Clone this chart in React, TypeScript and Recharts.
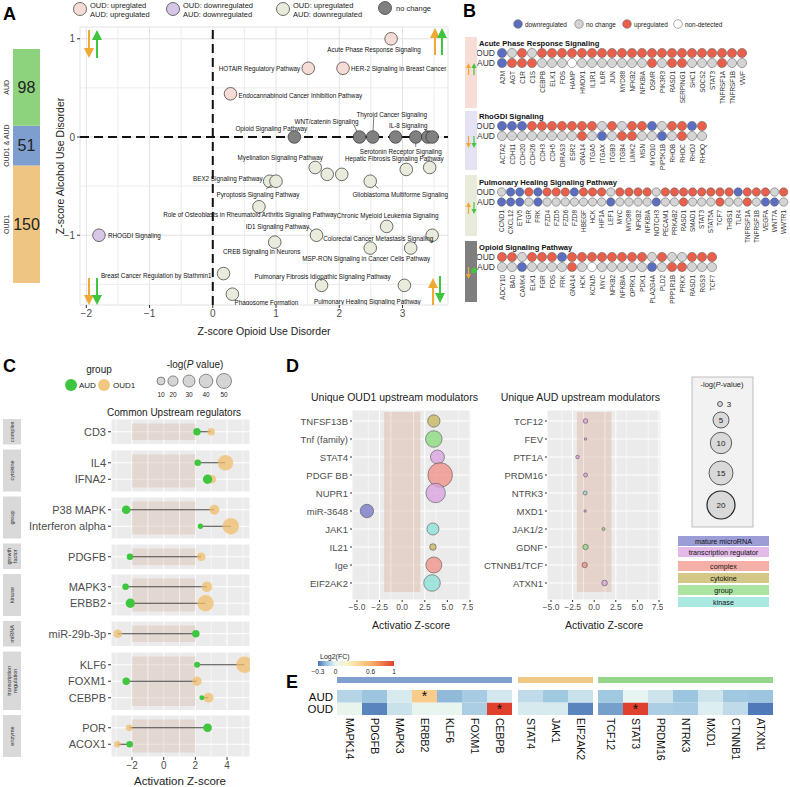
import React from "react";
import {
  ScatterChart, Scatter, XAxis, YAxis, ZAxis, CartesianGrid, ReferenceLine, ReferenceArea,
  BarChart, Bar, LabelList, Cell,
} from "recharts";

const FONT = "'Liberation Sans', Arial, Helvetica, sans-serif";
const minus = (v: any) => String(v).replace("-", "\u2212");

// ---------- A: canonical pathways, z-score OUD vs AUD ----------
const aPathways = [
  "Acute Phase Response Signaling", "HOTAIR Regulatory Pathway", "HER-2 Signaling in Breast Cancer",
  "Endocannabinoid Cancer Inhibition Pathway", "Opioid Signaling Pathway", "WNT/catenin Signaling",
  "Thyroid Cancer Signaling", "", "Serotonin Receptor Signaling", "", "IL-8 Signaling",
  "Myelination Signaling Pathway", "", "", "Hepatic Fibrosis Signaling Pathway", "",
  "BEX2 Signaling Pathway", "Pyroptosis Signaling Pathway", "Glioblastoma Multiforme Signaling",
  "Role of Osteoblasts in Rheumatoid Arthritis Signaling Pathway", "Chronic Myeloid Leukemia Signaling",
  "ID1 Signaling Pathway", "Colorectal Cancer Metastasis Signaling", "CREB Signaling in Neurons",
  "MSP-RON Signaling in Cancer Cells Pathway", "", "Breast Cancer Regulation by Stathmin1",
  "Pulmonary Fibrosis Idiopathic Signaling Pathway", "Pulmonary Healing Signaling Pathway",
  "Phagosome Formation", "RHOGDI Signaling",
];
const aOudZ = [2.82, 1.51, 2.06, 0.28, 1.29, 2.32, 2.53, 2.89, 3.21, 3.40, 3.47, 1.62, 1.81, 2.04, 3.06, 3.43,
  0.90, 1.00, 2.49, 0.73, 2.75, 1.64, 3.47, 0.98, 2.49, 3.13, 0.17, 1.72, 3.03, 0.31, -1.80];
const aAudZ = [1.0, 0.70, 0.70, 0.44, 0, 0, 0, 0, 0, 0, 0, -0.31, -0.38, -0.38, -0.33, -0.31,
  -0.45, -0.45, -0.45, -0.71, -0.91, -1.0, -1.0, -1.07, -1.13, -1.13, -1.39, -1.51, -1.51, -1.60, -1.0];

const vennNames = ["OUD1", "OUD1 & AUD", "AUD"];
const vennCounts = [150, 51, 98];

// ---------- B: gene status per pathway (d down, n no change, u up, x non-detected) ----------
const acuteGenes = ["A2M", "AGT", "C1R", "C1S", "CEBPB", "ELK1", "FOS", "HAMP", "HMOX1", "IL1R1", "IL6R", "JUN", "MYD88",
  "NFKB2", "NFKBIA", "OSMR", "PIK3R3", "RASD1", "SERPING1", "SHC1", "SOCS2", "STAT3", "TNFRSF1A", "TNFRSF1B", "VWF"];
const acuteOud = ("dnun" + "uuuuuuuuuu" + "uuuuuuuuuu" + "u").split("");
const acuteAud = ("duuu" + "nnn" + "x" + "nnnnnnn" + "u" + "n" + "uu" + "nnn" + "u" + "nn").split("");
const rhoGenes = ["ACTA2", "CDH11", "CDH20", "CDH26", "CDH3", "CDH5", "DIRAS3", "ESR2", "GNA14", "ITGA5", "ITGAX", "ITGB3",
  "ITGB4", "LIMK2", "MSN", "MYO10", "PIP5K1B", "RHOB", "RHOC", "RHOJ", "RHOQ"];
const rhoOud = ("ddd" + "uuuuuuu" + "nunuudnuudu").split("");
const rhoAud = ("nnnnnnnn" + "undnuunndnunn").split("");
const pulmGenes = ["CCND1", "CXCL12", "ETV5", "FGR", "FRK", "FZD4", "FZD5", "FZD6", "FZD8", "HBEGF", "HCK", "HIF1A", "LEF1",
  "MYC", "MYD88", "NFKB2", "NFKBIA", "NOTCH3", "PECAM1", "PRKAB2", "RASD1", "SMAD1", "STAT3", "STAT5A", "TCF7", "THBS1",
  "TLR4", "TNFRSF1A", "TNFRSF1B", "VEGFA", "WNT7A", "WWTR1"];
const pulmOud = ("nddud" + "uuud" + "uuun" + "uuuun" + "uuuuuuuu" + "d" + "uuu" + "n" + "u").split("");
const pulmAud = ("dddnd" + "nnnnnnn" + "d" + "nnnn" + "d" + "nn" + "u" + "nnn" + "u" + "nn" + "u" + "n" + "dd" + "n").split("");
const opioidGenes = ["ADCY10", "BAD", "CAMK4", "ELK1", "FGR", "FOS", "FRK", "GNA14", "HCK", "KCNJ5", "MYC", "NFKB2", "NFKBIA",
  "OPRK1", "PDK1", "PLA2G4A", "PLD2", "PPP1R1B", "PRKX", "RASD1", "RGS3", "TCF7"];
const opioidOud = ("uun" + "uuud" + "uuuuuuuu" + "n" + "u" + "nn" + "uuu").split("");
const opioidAud = ("nnd" + "nnnn" + "u" + "n" + "x" + "nnnnn" + "d" + "n" + "uu" + "nnn").split("");

// ---------- C: common upstream regulators ----------
const cFacetNames = ["complex", "cytokine", "group", "growth factor", "kinase", "miRNA", "transcription regulation", "enzyme"];
const cRegulators = ["CD3", "IL4", "IFNA2", "P38 MAPK", "Interferon alpha", "PDGFB", "MAPK3", "ERBB2", "miR-29b-3p",
  "KLF6", "FOXM1", "CEBPB", "POR", "ACOX1"];
const cRegFacet = ["complex", "cytokine", "cytokine", "group", "group", "growth factor", "kinase", "kinase", "miRNA",
  "transcription regulation", "transcription regulation", "transcription regulation", "enzyme", "enzyme"];
const cAudZ = [2.1, 2.15, 2.77, -2.37, 2.32, -2.13, -2.41, -2.11, 2.03, 2.11, -2.37, 2.41, 2.77, -2.15];
const cOudZ = [3.0, 3.9, 3.04, 3.2, 4.24, 2.37, 2.73, 2.64, -2.91, 5.1, 2.1, 2.83, -2.18, -2.93];
const cAudLogP = [8, 5, 16, 13, 1.5, 5, 5, 16, 8, 3, 8, 0.5, 13, 5];
const cOudLogP = [8, 52, 13, 19, 62, 13, 22, 62, 13, 62, 16, 19, 5, 5];
const cSizeBreaks = [10, 20, 30, 40, 50];

// ---------- D: unique upstream modulators ----------
const dOudGenes = ["TNFSF13B", "Tnf (family)", "STAT4", "PDGF BB", "NUPR1", "miR-3648", "JAK1", "IL21", "Ige", "EIF2AK2"];
const dOudZ = [3.5, 3.5, 3.9, 4.2, 3.7, -3.9, 3.4, 3.4, 3.5, 3.3];
const dOudType = ["cytokine", "group", "transcription regulator", "complex", "transcription regulator", "mature microRNA",
  "kinase", "cytokine", "complex", "kinase"];
const dOudLogP = [3.9, 7.0, 5.0, 15.4, 9.6, 4.6, 3.7, 1.1, 6.5, 7.0];
const dAudGenes = ["TCF12", "FEV", "PTF1A", "PRDM16", "NTRK3", "MXD1", "JAK1/2", "GDNF", "CTNNB1/TCF", "ATXN1"];
const dAudZ = [-1.0, -1.0, -1.93, -1.0, -1.05, -1.05, 1.08, -1.0, -1.1, 1.2];
const dAudType = ["transcription regulator", "transcription regulator", "transcription regulator", "transcription regulator",
  "kinase", "transcription regulator", "group", "group", "complex", "transcription regulator"];
const dAudLogP = [0.54, 0.15, 0.33, 0.41, 0.41, 0.15, 0.23, 0.74, 0.74, 0.8];
const dTypes = ["mature microRNA", "transcription regulator", "complex", "cytokine", "group", "kinase"];
const dSizeBreaks = ["3", "5", "10", "15", "20"];

// ---------- E: log2 fold change ----------
const eGenes1 = ["MAPK14", "PDGFB", "MAPK3", "ERBB2", "KLF6", "FOXM1", "CEBPB"];
const eGenes2 = ["STAT4", "JAK1", "EIF2AK2"];
const eGenes3 = ["TCF12", "STAT3", "PRDM16", "NTRK3", "MXD1", "CTNNB1", "ATXN1"];
const eGenes = [...eGenes1, ...eGenes2, ...eGenes3];
const eAudFC = [-0.10, -0.15, -0.03, 0.45, -0.17, -0.13, -0.04, -0.08, -0.14, -0.06, -0.14, 0.01, -0.05, -0.15, -0.05, -0.14, -0.15];
const eOudFC = [0.03, -0.27, -0.06, 0.02, 0.02, -0.12, 1.0, -0.03, -0.03, -0.27, -0.22, 1.0, -0.12, -0.13, -0.02, -0.08, -0.29];
const eAudSig = ["ERBB2"];
const eOudSig = ["CEBPB", "STAT3"];
const eLegendTicks = [-0.3, 0, 0.6, 1];

// ---------- styles ----------
const aFill: Record<string, string> = { upup: "#f6dcd6", downdown: "#d8c6e7", updown: "#e9ebdc", none: "#808080" };
const aClass = (o: number, a: number) => (a === 0 ? "none" : o > 0 && a > 0 ? "upup" : o < 0 && a < 0 ? "downdown" : "updown");
const vennColors = ["#efc681", "#7e9ed0", "#8dd27d"];
const bFill: Record<string, string> = { d: "#5b6ebf", n: "#d4d4d4", u: "#e8604c", x: "#ffffff" };
const ORANGE = "#f0a935";
const GREEN = "#3fc63f";
const OUD1_FILL = "#f0bd6c";
const dTypeColor: Record<string, string> = {
  "mature microRNA": "#7b7bc9", "transcription regulator": "#d9a3e0", complex: "#f0948a",
  cytokine: "#c5b660", group: "#8ddb80", kinase: "#8de0d8",
};

type Place = { dx: number; dy: number; anchor: "start" | "middle" | "end"; lx?: number; ly?: number };
const aLabelPlace: Record<string, Place> = {
  "Acute Phase Response Signaling": { dx: -17, dy: 11, anchor: "middle" },
  "HOTAIR Regulatory Pathway": { dx: -8, dy: 0, anchor: "end" },
  "HER-2 Signaling in Breast Cancer": { dx: 8, dy: 0, anchor: "start" },
  "Endocannabinoid Cancer Inhibition Pathway": { dx: 8, dy: 2, anchor: "start" },
  "Opioid Signaling Pathway": { dx: -23, dy: -9, anchor: "middle" },
  "WNT/catenin Signaling": { dx: -33, dy: -16, anchor: "middle", lx: -6, ly: -13 },
  "Thyroid Cancer Signaling": { dx: 19, dy: -23, anchor: "middle", lx: 1, ly: -20 },
  "IL-8 Signaling": { dx: -24, dy: -12, anchor: "middle", lx: -8, ly: -8 },
  "Serotonin Receptor Signaling": { dx: -15, dy: 14, anchor: "middle", lx: 0, ly: 10 },
  "Hepatic Fibrosis Signaling Pathway": { dx: -12, dy: -11, anchor: "middle" },
  "Myelination Signaling Pathway": { dx: -35, dy: -10, anchor: "middle" },
  "BEX2 Signaling Pathway": { dx: -7, dy: -3, anchor: "end" },
  "Pyroptosis Signaling Pathway": { dx: -18, dy: 13, anchor: "middle", lx: -10, ly: 8 },
  "Glioblastoma Multiforme Signaling": { dx: 30, dy: 13, anchor: "middle", lx: 8, ly: 7 },
  "Role of Osteoblasts in Rheumatoid Arthritis Signaling Pathway": { dx: -9, dy: 8, anchor: "middle" },
  "Chronic Myeloid Leukemia Signaling": { dx: 1, dy: -11, anchor: "middle" },
  "ID1 Signaling Pathway": { dx: -39, dy: -9, anchor: "middle", lx: -8, ly: -8 },
  "Colorectal Cancer Metastasis Signaling": { dx: -54, dy: 3, anchor: "middle" },
  "CREB Signaling in Neurons": { dx: -13, dy: 9, anchor: "middle" },
  "MSP-RON Signaling in Cancer Cells Pathway": { dx: -4, dy: 10, anchor: "middle" },
  "RHOGDI Signaling": { dx: 9, dy: 0, anchor: "start" },
  "Breast Cancer Regulation by Stathmin1": { dx: -12, dy: 2, anchor: "end" },
  "Pulmonary Fibrosis Idiopathic Signaling Pathway": { dx: 1, dy: -9, anchor: "middle" },
  "Pulmonary Healing Signaling Pathway": { dx: -37, dy: 16, anchor: "middle" },
  "Phagosome Formation": { dx: 34, dy: 8, anchor: "middle" },
};

// heat colour scale
const heatStops: [number, number[]][] = [
  [-0.3, [74, 116, 182]], [-0.15, [156, 197, 224]], [0, [230, 244, 243]],
  [0.2, [251, 244, 196]], [0.6, [249, 180, 106]], [1, [224, 65, 47]],
];
function heatColor(v: number) {
  const c = Math.max(-0.3, Math.min(1, v));
  for (let i = 0; i < heatStops.length - 1; i++) {
    const [a, ca] = heatStops[i];
    const [b, cb] = heatStops[i + 1];
    if (c <= b) {
      const t = (c - a) / (b - a);
      const m = ca.map((x, k) => Math.round(x + (cb[k] - x) * t));
      return `rgb(${m[0]},${m[1]},${m[2]})`;
    }
  }
  return "rgb(224,65,47)";
}

// ---------- small helpers ----------
const T = ({ x, y, s = 8, a = "start", w = 400, c = "#222", r = 0, children, italic }: any) => (
  <text x={x} y={y} fontSize={s} textAnchor={a} fontWeight={w} fill={c} dominantBaseline="central"
    fontStyle={italic ? "italic" : undefined} transform={r ? `rotate(${r} ${x} ${y})` : undefined}>
    {children}
  </text>
);

const Arrow = ({ x, from, to, color, sw = 2, head = 5, hl = 10 }: any) => {
  const dir = Math.sign(to - from);
  const base = to - dir * hl;
  return (
    <g>
      <line x1={x} y1={from} x2={x} y2={base} stroke={color} strokeWidth={sw} />
      <polygon points={`${x - head},${base} ${x + head},${base} ${x},${to}`} fill={color} />
    </g>
  );
};

// plain y tick (no word wrapping)
const yTick = (size: number, color: string) => (p: any) => (
  <text x={p.x} y={p.y} textAnchor="end" dominantBaseline="central" fontSize={size} fill={color}>{p.payload.value}</text>
);

// ---------- panel A ----------
const PathwayDot = (p: any) => {
  const { cx, cy, payload } = p;
  const place = aLabelPlace[payload.name];
  return (
    <g>
      {place && place.lx !== undefined && (
        <line x1={cx} y1={cy} x2={cx + place.lx} y2={cy + (place.ly ?? 0)} stroke="#222" strokeWidth={0.6} />
      )}
      <circle cx={cx} cy={cy} r={6.3} fill={aFill[payload.cls]} stroke="#333" strokeWidth={0.7} />
      {place && (
        <text x={cx + place.dx} y={cy + place.dy} textAnchor={place.anchor} dominantBaseline="central" fontSize={6.3} fill="#111">
          {payload.name}
        </text>
      )}
    </g>
  );
};

function PanelA() {
  const data = aPathways.map((name, i) => ({ name, x: aOudZ[i], y: aAudZ[i], cls: aClass(aOudZ[i], aAudZ[i]) }));
  const minorX = [-1.5, -0.5, 0.5, 1.5, 2.5, 3.5];
  const minorY = [-1.5, -0.5, 0.5];
  return (
    <div style={{ position: "absolute", left: 0, top: 0 }}>
      <ScatterChart width={460} height={340} margin={{ top: 27, right: 12, bottom: 0, left: 0 }}>
        <CartesianGrid stroke="#e2e2e2" fill="#fff" />
        {minorX.map((v) => <ReferenceLine key={"mx" + v} x={v} stroke="#ececec" />)}
        {minorY.map((v) => <ReferenceLine key={"my" + v} y={v} stroke="#ececec" />)}
        <XAxis type="number" dataKey="x" domain={[-2.1, 3.72]} ticks={[-2, -1, 0, 1, 2, 3]} allowDataOverflow
          height={35} tickSize={3} tickLine={{ stroke: "#333" }} axisLine={false} tickFormatter={minus}
          tick={{ fontSize: 10, fill: "#4d4d4d" }} />
        <YAxis type="number" dataKey="y" domain={[-1.71, 1.12]} ticks={[-1, 0, 1]} allowDataOverflow
          width={80} tickSize={3} tickLine={{ stroke: "#333" }} axisLine={false} tickFormatter={minus}
          tick={{ fontSize: 10, fill: "#4d4d4d" }} />
        <ReferenceLine x={0} stroke="#111" strokeWidth={2} strokeDasharray="9 5" />
        <ReferenceLine y={0} stroke="#111" strokeWidth={2} strokeDasharray="9 5" />
        <Scatter data={data} isAnimationActive={false} shape={PathwayDot} />
      </ScatterChart>
    </div>
  );
}

const VennLabel = (p: any) => {
  const vb = p.viewBox || p;
  const x = vb.x, y = vb.y, w = vb.width, h = vb.height;
  const cy = y + h / 2;
  return (
    <g>
      <text x={x + w / 2} y={cy} textAnchor="middle" dominantBaseline="central" fontSize={16} fill="#222">{p.value}</text>
      <text x={7} y={cy} textAnchor="middle" dominantBaseline="central" fontSize={7} fill="#333"
        transform={`rotate(-90 7 ${cy})`}>{p.name}</text>
    </g>
  );
};

function VennBar() {
  const row = [{ k: "genes", ...Object.fromEntries(vennCounts.map((v, i) => [`s${i}`, v])) }];
  return (
    <div style={{ position: "absolute", left: 0, top: 0 }}>
      <BarChart width={45} height={300} data={row} margin={{ top: 49, right: 5, bottom: 17, left: 13 }} barCategoryGap={0}>
        <XAxis dataKey="k" hide />
        <YAxis hide domain={[0, "dataMax"]} />
        {vennCounts.map((_, i) => (
          <Bar key={i} dataKey={`s${i}`} stackId="v" fill={vennColors[i]} isAnimationActive={false}>
            <LabelList dataKey={`s${i}`} content={(p: any) => <VennLabel {...p} name={vennNames[i]} />} />
          </Bar>
        ))}
      </BarChart>
    </div>
  );
}

// ---------- panel B ----------
const GeneTick = (p: any) => (
  <text x={p.x} y={p.y} transform={`rotate(-90 ${p.x} ${p.y})`} textAnchor="end" dominantBaseline="central"
    fontSize={6.4} fill="#333">{p.payload.value}</text>
);

function DotBlock({ genes, oud, aud, top, step }: any) {
  const pts = genes.flatMap((g: string, i: number) => [
    { gene: g, row: "OUD", s: oud[i] },
    { gene: g, row: "AUD", s: aud[i] },
  ]);
  const w = 20 + genes.length * step + 2;
  const r = step * 0.46;
  return (
    <div style={{ position: "absolute", left: 477, top: top + 5 }}>
      <ScatterChart width={w} height={70} margin={{ top: 0, right: 2, bottom: 0, left: 0 }}>
        <XAxis type="category" dataKey="gene" allowDuplicatedCategory={false} height={50} axisLine={false}
          tickLine={false} tickSize={0} tickMargin={3} interval={0} tick={<GeneTick />} />
        <YAxis type="category" dataKey="row" allowDuplicatedCategory={false} reversed width={20} axisLine={false}
          tickLine={false} tickSize={0} tickMargin={2} interval={0} tick={yTick(8.5, "#333")} />
        <Scatter data={pts} isAnimationActive={false}
          shape={(p: any) => <circle cx={p.cx} cy={p.cy} r={r} fill={bFill[p.payload.s]} stroke="#555" strokeWidth={0.5} />} />
      </ScatterChart>
    </div>
  );
}

const bBlocks = [
  { title: "Acute Phase Response Signaling", genes: acuteGenes, oud: acuteOud, aud: acuteAud, top: 43, step: 10, band: [37, 108], color: "#f7ddd5", arrows: ["up", "up"] },
  { title: "RhoGDI Signaling", genes: rhoGenes, oud: rhoOud, aud: rhoAud, top: 116, step: 10, band: [111, 170], color: "#e5e3f3", arrows: ["down", "down"] },
  { title: "Pulmonary Healing Signaling Pathway", genes: pulmGenes, oud: pulmOud, aud: pulmAud, top: 182, step: 9.1, band: [175, 236], color: "#e8ebd9", arrows: ["up", "down"] },
  { title: "Opioid Signaling Pathway", genes: opioidGenes, oud: opioidOud, aud: opioidAud, top: 247, step: 10, band: [241, 302], color: "#7f7f7f", arrows: ["down", "flat"] },
];

// ---------- panel C ----------
const cZRange: [number, number] = [18, 18 + 3.18 * 62];
const cRadius = (z: number) => Math.sqrt((cZRange[0] + ((cZRange[1] - cZRange[0]) * z) / 62) / Math.PI);

const cLayout = (() => {
  let y = 419;
  return cFacetNames.map((f) => {
    const n = cRegFacet.filter((x) => x === f).length;
    const h = 16.5 * n + 9;
    const out = { facet: f, top: y, h, pad: (h - 16.5 * n) / 2 };
    y += h + 5;
    return out;
  });
})();

function CFacet({ facet, top, h, pad, isLast }: any) {
  const idx = cRegulators.map((_, i) => i).filter((i) => cRegFacet[i] === facet);
  const aud = idx.map((i) => ({ gene: cRegulators[i], z: cAudZ[i], p: cAudLogP[i] }));
  const oud = idx.map((i) => ({ gene: cRegulators[i], z: cOudZ[i], p: cOudLogP[i] }));
  const axisH = isLast ? 22 : 0;
  return (
    <div style={{ position: "absolute", left: 22, top }}>
      <ScatterChart width={230} height={h + axisH} margin={{ top: 0, right: 2, bottom: 0, left: 0 }}>
        <CartesianGrid fill="#ebebeb" stroke="#ffffff" />
        {[-3, -1, 1, 3, 5].map((v) => <ReferenceLine key={v} x={v} stroke="#ffffff" strokeWidth={0.6} />)}
        <ReferenceArea x1={-2} x2={2} fill="#d8b9ab" fillOpacity={0.4} stroke="none" />
        <XAxis type="number" dataKey="z" domain={[-3.33, 5.45]} ticks={[-2, 0, 2, 4]} allowDataOverflow hide={!isLast}
          height={axisH} tickSize={3} tickLine={{ stroke: "#333" }} axisLine={false} tickFormatter={minus}
          tick={{ fontSize: 10, fill: "#4d4d4d" }} />
        <YAxis type="category" dataKey="gene" allowDuplicatedCategory={false} reversed interval={0} width={89}
          padding={{ top: pad, bottom: pad }} tickSize={3} tickLine={{ stroke: "#333" }} axisLine={false}
          tick={yTick(11, "#4d4d4d")} />
        <ZAxis type="number" dataKey="p" domain={[0, 62]} range={cZRange} />
        {idx.map((i) => (
          <ReferenceLine key={"s" + i} segment={[{ x: cAudZ[i], y: cRegulators[i] }, { x: cOudZ[i], y: cRegulators[i] }]}
            stroke="#444" strokeWidth={1} />
        ))}
        <Scatter data={oud} fill={OUD1_FILL} fillOpacity={0.75} isAnimationActive={false} />
        <Scatter data={aud} fill={GREEN} isAnimationActive={false} />
      </ScatterChart>
    </div>
  );
}

// ---------- panel D ----------
function DPanel({ genes, z, types, logp, left, width, yWidth, domain }: any) {
  const data = genes.map((g: string, i: number) => ({ gene: g, z: z[i], p: logp[i], type: types[i] }));
  return (
    <div style={{ position: "absolute", left, top: 410 }}>
      <ScatterChart width={width} height={212} margin={{ top: 0, right: 2, bottom: 0, left: 0 }}>
        <CartesianGrid fill="#ebebeb" stroke="#ffffff" />
        {[-3.75, -1.25, 1.25, 3.75, 6.25].map((v) => <ReferenceLine key={v} x={v} stroke="#ffffff" strokeWidth={0.5} />)}
        <ReferenceArea x1={-2} x2={2} fill="#e0c2b5" fillOpacity={0.6} stroke="none" />
        <XAxis type="number" dataKey="z" domain={domain} ticks={[-5, -2.5, 0, 2.5, 5, 7.5]} allowDataOverflow height={22}
          tickSize={2} tickLine={{ stroke: "#333" }} axisLine={false} tickFormatter={(v: number) => minus(v.toFixed(1))}
          tick={{ fontSize: 8.5, fill: "#4d4d4d" }} />
        <YAxis type="category" dataKey="gene" allowDuplicatedCategory={false} reversed interval={0} width={yWidth}
          padding={{ top: 2, bottom: 8 }} tickSize={2} tickLine={{ stroke: "#333" }} axisLine={false}
          tick={yTick(9.5, "#4d4d4d")} />
        <ZAxis type="number" dataKey="p" domain={[0, 20]} range={[0, 616]} />
        <Scatter data={data} stroke="#555" strokeWidth={0.6} fillOpacity={0.8} isAnimationActive={false}>
          {data.map((d: any, i: number) => <Cell key={i} fill={dTypeColor[d.type]} />)}
        </Scatter>
      </ScatterChart>
    </div>
  );
}

// ---------- panel E ----------
const HeatTick = (p: any) => (
  <text x={p.x} y={p.y} transform={`rotate(90 ${p.x} ${p.y})`} textAnchor="start" dominantBaseline="central"
    fontSize={10.5} fill="#111">{p.payload.value}</text>
);
const StarLabel = (p: any) => {
  const vb = p.viewBox || p;
  if (!p.value) return null;
  return (
    <text x={vb.x + vb.width / 2} y={vb.y + vb.height / 2 + 5} textAnchor="middle" fontSize={14} fill="#111">*</text>
  );
};

function HeatGroup({ genes, left }: any) {
  const rows = genes.map((g: string) => {
    const i = eGenes.indexOf(g);
    return {
      gene: g, aud: eAudFC[i], oud: eOudFC[i],
      audStar: eAudSig.includes(g) ? 1 : 0, oudStar: eOudSig.includes(g) ? 1 : 0,
      audTile: 1, oudTile: 1,
    };
  });
  return (
    <div style={{ position: "absolute", left, top: 686 }}>
      <BarChart width={genes.length * 25} height={79} data={rows} margin={{ top: 4, right: 0, bottom: 0, left: 0 }}
        barCategoryGap={0} barGap={0}>
        <XAxis dataKey="gene" height={50} interval={0} axisLine={false} tickLine={false} tickSize={0} tickMargin={3}
          tick={<HeatTick />} />
        <YAxis hide domain={[0, 2]} />
        <Bar dataKey="oudTile" stackId="t" isAnimationActive={false}>
          {rows.map((r: any, i: number) => <Cell key={i} fill={heatColor(r.oud)} />)}
          <LabelList dataKey="oudStar" content={StarLabel} />
        </Bar>
        <Bar dataKey="audTile" stackId="t" isAnimationActive={false}>
          {rows.map((r: any, i: number) => <Cell key={i} fill={heatColor(r.aud)} />)}
          <LabelList dataKey="audStar" content={StarLabel} />
        </Bar>
      </BarChart>
    </div>
  );
}

// ---------- overlay: letters, legends, strips, titles ----------
function Overlay() {
  const aLeg = [
    { x: 80, fill: aFill.upup, l1: "OUD: upreglated", l2: "AUD: upregulated" },
    { x: 173, fill: aFill.downdown, l1: "OUD: downregulated", l2: "AUD: downregulated" },
    { x: 283, fill: aFill.updown, l1: "OUD: upregulated", l2: "AUD: downregulated" },
  ];
  const bLeg = [
    { x: 518, s: "d", t: "downregulated" }, { x: 579, s: "n", t: "no change" },
    { x: 627, s: "u", t: "upregulated" }, { x: 678, s: "x", t: "non-detected" },
  ];
  const dLegR = [2.5, 8, 10.7, 12, 14];
  const dLegY = [404, 420, 443, 473, 505];
  const eTickX = (v: number) => 318 + ((v + 0.3) / 1.3) * 76;
  return (
    <svg width={790} height={787} style={{ position: "absolute", left: 0, top: 0, pointerEvents: "none" }}>
      <defs>
        <linearGradient id="heatGrad" x1="0" x2="1" y1="0" y2="0">
          {heatStops.map(([v, c]) => (
            <stop key={v} offset={(v + 0.3) / 1.3} stopColor={`rgb(${c[0]},${c[1]},${c[2]})`} />
          ))}
        </linearGradient>
      </defs>

      {/* letters */}
      <T x={3} y={14} s={18} w={700} c="#000">A</T>
      <T x={463} y={11} s={18} w={700} c="#000">B</T>
      <T x={3} y={366} s={18} w={700} c="#000">C</T>
      <T x={286} y={366} s={18} w={700} c="#000">D</T>
      <T x={286} y={682} s={18} w={700} c="#000">E</T>

      {/* A legend */}
      {aLeg.map((l) => (
        <g key={l.x}>
          <circle cx={l.x} cy={9} r={6.5} fill={l.fill} stroke="#333" strokeWidth={0.7} />
          <T x={l.x + 10} y={5} s={7.5}>{l.l1}</T>
          <T x={l.x + 10} y={14} s={7.5}>{l.l2}</T>
        </g>
      ))}
      <circle cx={385} cy={8} r={6.5} fill={aFill.none} stroke="#333" strokeWidth={0.7} />
      <T x={396} y={8} s={7.5}>no change</T>

      {/* A axis titles */}
      <T x={60} y={166} s={10.5} a="middle" r={-90}>Z-score Alcohol Use Disorder</T>
      <T x={264} y={331} s={10.5} a="middle">Z-score Opioid Use Disorder</T>

      {/* A corner arrows */}
      <Arrow x={89} from={30} to={58} color={ORANGE} />
      <Arrow x={97} from={58} to={30} color={GREEN} />
      <Arrow x={435} from={55} to={28} color={ORANGE} />
      <Arrow x={442} from={55} to={28} color={GREEN} />
      <Arrow x={89} from={278} to={305} color={ORANGE} />
      <Arrow x={97} from={278} to={305} color={GREEN} />
      <Arrow x={433} from={305} to={278} color={ORANGE} />
      <Arrow x={440} from={276} to={303} color={GREEN} />

      {/* B legend */}
      {bLeg.map((l) => (
        <g key={l.x}>
          <circle cx={l.x} cy={24} r={4.3} fill={bFill[l.s]} stroke="#555" strokeWidth={0.5} />
          <T x={l.x + 7} y={24} s={6.4}>{l.t}</T>
        </g>
      ))}
      {/* B side bars and titles */}
      {bBlocks.map((b) => (
        <g key={b.title}>
          <rect x={465} y={b.band[0]} width={12} height={b.band[1] - b.band[0]} fill={b.color} />
          <T x={479} y={b.top} s={7.6} w={700} c="#111">{b.title}</T>
          {b.arrows[0] === "up"
            ? <Arrow x={468.5} from={b.top + 32} to={b.top + 20} color={ORANGE} sw={1.2} head={2.5} hl={5} />
            : <Arrow x={468.5} from={b.top + 20} to={b.top + 32} color={ORANGE} sw={1.2} head={2.5} hl={5} />}
          {b.arrows[1] === "up" && <Arrow x={474} from={b.top + 32} to={b.top + 20} color={GREEN} sw={1.2} head={2.5} hl={5} />}
          {b.arrows[1] === "down" && <Arrow x={474} from={b.top + 20} to={b.top + 32} color={GREEN} sw={1.2} head={2.5} hl={5} />}
          {b.arrows[1] === "flat" && <rect x={471.5} y={b.top + 21} width={5} height={5} fill={GREEN} />}
        </g>
      ))}

      {/* C legend */}
      <T x={99} y={369} s={10} a="middle">group</T>
      <circle cx={71} cy={385} r={6} fill={GREEN} />
      <T x={79} y={385} s={8}>AUD</T>
      <circle cx={104} cy={385} r={6} fill={OUD1_FILL} fillOpacity={0.85} />
      <T x={113} y={385} s={8}>OUD1</T>
      <text x={195} y={364} fontSize={10} textAnchor="middle" dominantBaseline="central" fill="#222">
        -log(<tspan fontStyle="italic">P</tspan> value)
      </text>
      {cSizeBreaks.map((v, i) => {
        const cx = [161, 173, 189, 206, 224][i];
        return (
          <g key={v}>
            <circle cx={cx} cy={381} r={cRadius(v)} fill="#d5d5d5" stroke="#444" strokeWidth={0.6} />
            <T x={cx} y={394} s={6.5} a="middle">{v}</T>
          </g>
        );
      })}
      <T x={174} y={412} s={10} a="middle">Common Upstream regulators</T>
      {cLayout.map((f) => {
        const parts = f.facet === "growth factor" ? ["growth", "factor"]
          : f.facet === "transcription regulation" ? ["transcription", "regulation"] : [f.facet];
        const cy = f.top + f.h / 2;
        return (
          <g key={f.facet}>
            <rect x={3} y={f.top} width={18} height={f.h} fill="#d9d9d9" />
            {parts.map((t, k) => {
              const x = 12 + (k - (parts.length - 1) / 2) * 6;
              return <T key={t} x={x} y={cy} s={5.5} a="middle" r={-90} c="#333">{t}</T>;
            })}
          </g>
        );
      })}
      <T x={180} y={781} s={11.5} a="middle">Activation Z-score</T>

      {/* D titles and legends */}
      <T x={311} y={397} s={10.5}>Unique OUD1 upstream modulators</T>
      <T x={660} y={397} s={10.5} a="end">Unique AUD upstream modulators</T>
      <T x={411} y={625} s={10.5} a="middle">Activatio Z-score</T>
      <T x={604} y={625} s={10.5} a="middle">Activatio Z-score</T>
      <rect x={692} y={377} width={61} height={150} fill="#f2f2f2" stroke="#b0b0b0" strokeWidth={0.8} />
      <text x={722} y={384} fontSize={7.5} textAnchor="middle" dominantBaseline="central" fill="#222">
        -log(<tspan fontStyle="italic">P</tspan>-value)
      </text>
      {dSizeBreaks.map((v, i) => (
        <g key={v}>
          <circle cx={i === 0 ? 720 : 721} cy={dLegY[i]} r={dLegR[i]} fill="#d9d9d9" stroke="#222"
            strokeWidth={i === 4 ? 1.2 : 0.7} />
          <T x={i === 0 ? 729 : 721} y={dLegY[i]} s={8} a="middle">{v}</T>
        </g>
      ))}
      {dTypes.map((t, i) => {
        const y = [536, 547, 561, 573, 585, 597][i];
        return (
          <g key={t}>
            <rect x={678} y={y} width={91} height={10} fill={dTypeColor[t]} fillOpacity={0.75} />
            <T x={723.5} y={y + 5} s={7.2} a="middle" c="#111">{t}</T>
          </g>
        );
      })}

      {/* E legend, group bars, row labels */}
      <T x={320} y={656} s={7}>Log2(FC)</T>
      <rect x={318} y={661} width={76} height={5} fill="url(#heatGrad)" />
      {eLegendTicks.map((v) => <T key={v} x={eTickX(v)} y={671} s={6.5} a="middle">{minus(v)}</T>)}
      <rect x={337} y={677} width={175} height={6} fill="#7e9fd0" />
      <rect x={518} y={677} width={75} height={6} fill="#f0c886" />
      <rect x={598} y={677} width={175} height={6} fill="#93d68b" />
      <T x={333} y={696.5} s={11.5} a="end" c="#111">AUD</T>
      <T x={333} y={709} s={11.5} a="end" c="#111">OUD</T>
    </svg>
  );
}

export default function App() {
  return (
    <div style={{ position: "relative", width: 790, height: 787, background: "#fff", fontFamily: FONT, overflow: "hidden" }}>
      <style>{"body{margin:0}"}</style>
      <PanelA />
      <VennBar />
      {bBlocks.map((b) => <DotBlock key={b.title} {...b} />)}
      {cLayout.map((f, i) => <CFacet key={f.facet} {...f} isLast={i === cLayout.length - 1} />)}
      <DPanel genes={dOudGenes} z={dOudZ} types={dOudType} logp={dOudLogP} left={278} width={195} yWidth={74} domain={[-5.55, 7.61]} />
      <DPanel genes={dAudGenes} z={dAudZ} types={dAudType} logp={dAudLogP} left={476} width={187} yWidth={71} domain={[-5.46, 7.73]} />
      <HeatGroup genes={eGenes1} left={337} />
      <HeatGroup genes={eGenes2} left={518} />
      <HeatGroup genes={eGenes3} left={598} />
      <Overlay />
    </div>
  );
}
